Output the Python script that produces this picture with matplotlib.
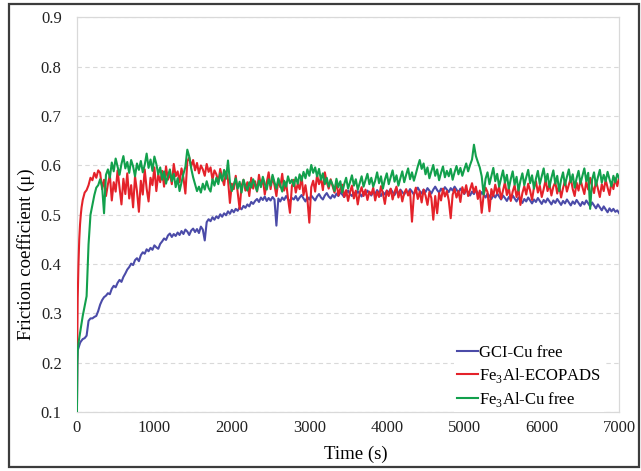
import numpy as np
import matplotlib
matplotlib.use("Agg")
import matplotlib.pyplot as plt
from matplotlib.patches import Rectangle

plt.rcParams["font.family"] = ["Liberation Serif", "DejaVu Serif"]
plt.rcParams["mathtext.fontset"] = "custom"
plt.rcParams["mathtext.rm"] = "Liberation Serif"

# ---- data ----
early_time = [0, 5, 10, 20, 30, 40, 50, 60, 75, 100, 125, 150, 175, 200, 225, 250, 275]
time = np.concatenate([early_time, np.arange(300, 7001, 25)])

labels = ["GCI-Cu free", "Fe$_{\\mathrm{3}}$Al-ECOPADS", "Fe$_{\\mathrm{3}}$Al-Cu free"]
colors = ["#4b4ba8", "#e4222a", "#12a04c"]

gci_cu_free = [
    0.100, 0.200, 0.225, 0.230, 0.235, 0.240, 0.243, 0.245, 0.248, 0.250, 0.255, 0.285, 0.290, 0.290, 0.293, 0.295, 0.305,
    0.318, 0.327, 0.333, 0.336, 0.341, 0.339, 0.350, 0.356, 0.353, 0.362, 0.368, 0.364, 0.374, 0.381, 0.389, 0.394, 0.401, 0.398, 0.408, 0.412,
    0.406, 0.418, 0.424, 0.421, 0.430, 0.426, 0.433, 0.429, 0.438, 0.434, 0.431, 0.441, 0.446, 0.452, 0.449, 0.458, 0.462, 0.455, 0.461, 0.457,
    0.464, 0.459, 0.467, 0.461, 0.470, 0.466, 0.459, 0.468, 0.472, 0.465, 0.471, 0.463, 0.476, 0.470, 0.448, 0.485, 0.491, 0.487, 0.495, 0.490,
    0.497, 0.493, 0.501, 0.496, 0.503, 0.499, 0.507, 0.502, 0.510, 0.505, 0.512, 0.508, 0.515, 0.511, 0.518, 0.514, 0.521, 0.517, 0.526, 0.522,
    0.528, 0.532, 0.526, 0.535, 0.530, 0.537, 0.528, 0.534, 0.529, 0.536, 0.531, 0.478, 0.533, 0.527, 0.535, 0.530, 0.538, 0.532, 0.527, 0.534,
    0.531, 0.538, 0.529, 0.535, 0.540, 0.533, 0.527, 0.536, 0.531, 0.539, 0.534, 0.529, 0.537, 0.542, 0.535, 0.531, 0.539, 0.544, 0.537, 0.533,
    0.540, 0.535, 0.543, 0.538, 0.546, 0.541, 0.536, 0.544, 0.549, 0.542, 0.538, 0.545, 0.540, 0.548, 0.543, 0.537, 0.546, 0.541, 0.549, 0.544,
    0.539, 0.547, 0.542, 0.550, 0.544, 0.538, 0.546, 0.541, 0.549, 0.545, 0.552, 0.546, 0.540, 0.548, 0.543, 0.551, 0.546, 0.541, 0.549, 0.544,
    0.552, 0.547, 0.541, 0.549, 0.555, 0.548, 0.543, 0.551, 0.546, 0.554, 0.549, 0.543, 0.551, 0.557, 0.550, 0.545, 0.553, 0.548, 0.556, 0.551,
    0.546, 0.554, 0.549, 0.557, 0.551, 0.545, 0.553, 0.548, 0.542, 0.550, 0.545, 0.539, 0.547, 0.542, 0.550, 0.544, 0.538, 0.546, 0.541, 0.535,
    0.543, 0.538, 0.532, 0.540, 0.535, 0.543, 0.537, 0.531, 0.539, 0.534, 0.528, 0.536, 0.531, 0.539, 0.533, 0.527, 0.535, 0.530, 0.524, 0.532,
    0.527, 0.535, 0.529, 0.523, 0.531, 0.526, 0.534, 0.528, 0.522, 0.530, 0.525, 0.533, 0.527, 0.521, 0.529, 0.524, 0.532, 0.526, 0.520, 0.528,
    0.523, 0.531, 0.525, 0.519, 0.527, 0.522, 0.530, 0.524, 0.518, 0.526, 0.521, 0.529, 0.523, 0.517, 0.525, 0.519, 0.513, 0.521, 0.515, 0.509,
    0.517, 0.511, 0.505, 0.513, 0.507, 0.512, 0.506, 0.509, 0.503,
]

fe3al_ecopads = [
    0.100, 0.250, 0.330, 0.400, 0.450, 0.480, 0.500, 0.515, 0.530, 0.545, 0.550, 0.560, 0.575, 0.570, 0.585, 0.575, 0.590,
    0.585, 0.552, 0.571, 0.538, 0.562, 0.581, 0.529, 0.566, 0.547, 0.590, 0.556, 0.521, 0.573, 0.542, 0.584, 0.533, 0.560, 0.515, 0.578, 0.548,
    0.506, 0.569, 0.541, 0.592, 0.553, 0.527, 0.575, 0.560, 0.596, 0.548, 0.582, 0.566, 0.589, 0.557, 0.598, 0.571, 0.585, 0.562, 0.603, 0.578,
    0.588, 0.566, 0.594, 0.575, 0.543, 0.608, 0.616, 0.598, 0.611, 0.590, 0.605, 0.584, 0.600, 0.592, 0.579, 0.603, 0.587, 0.596, 0.571, 0.590,
    0.582, 0.566, 0.593, 0.574, 0.560, 0.588, 0.571, 0.524, 0.563, 0.552, 0.579, 0.545, 0.512, 0.558, 0.571, 0.549, 0.566, 0.538, 0.575, 0.553,
    0.568, 0.547, 0.581, 0.559, 0.573, 0.541, 0.565, 0.586, 0.552, 0.577, 0.560, 0.538, 0.571, 0.556, 0.583, 0.549, 0.566, 0.533, 0.504, 0.558,
    0.571, 0.545, 0.563, 0.552, 0.578, 0.540, 0.560, 0.532, 0.484, 0.556, 0.569, 0.547, 0.581, 0.562, 0.575, 0.550, 0.586, 0.566, 0.553, 0.572,
    0.558, 0.545, 0.567, 0.539, 0.553, 0.561, 0.536, 0.550, 0.528, 0.546, 0.559, 0.533, 0.549, 0.521, 0.544, 0.556, 0.538, 0.551, 0.530, 0.547,
    0.541, 0.555, 0.529, 0.547, 0.536, 0.558, 0.543, 0.522, 0.549, 0.538, 0.553, 0.531, 0.546, 0.557, 0.535, 0.549, 0.527, 0.544, 0.552, 0.539,
    0.548, 0.486, 0.541, 0.555, 0.532, 0.547, 0.525, 0.551, 0.539, 0.520, 0.546, 0.534, 0.490, 0.538, 0.503, 0.544, 0.529, 0.553, 0.537, 0.548,
    0.529, 0.493, 0.541, 0.552, 0.535, 0.548, 0.526, 0.556, 0.543, 0.560, 0.538, 0.551, 0.564, 0.545, 0.557, 0.532, 0.549, 0.504, 0.540, 0.555,
    0.546, 0.507, 0.552, 0.538, 0.561, 0.543, 0.557, 0.532, 0.549, 0.566, 0.540, 0.555, 0.528, 0.547, 0.560, 0.536, 0.553, 0.520, 0.544, 0.558,
    0.541, 0.563, 0.549, 0.530, 0.556, 0.568, 0.545, 0.559, 0.536, 0.552, 0.571, 0.548, 0.562, 0.539, 0.557, 0.566, 0.543, 0.560, 0.535, 0.554,
    0.569, 0.547, 0.561, 0.574, 0.552, 0.538, 0.565, 0.549, 0.571, 0.556, 0.542, 0.567, 0.551, 0.575, 0.558, 0.544, 0.569, 0.553, 0.536, 0.562,
    0.548, 0.571, 0.555, 0.540, 0.566, 0.552, 0.574, 0.558, 0.577,
]

fe3al_cu_free = [
    0.100, 0.200, 0.225, 0.240, 0.250, 0.260, 0.270, 0.280, 0.295, 0.315, 0.335, 0.440, 0.500, 0.520, 0.540, 0.555, 0.560,
    0.572, 0.558, 0.503, 0.581, 0.592, 0.575, 0.606, 0.588, 0.614, 0.597, 0.581, 0.603, 0.619, 0.594, 0.607, 0.585, 0.611, 0.598, 0.578, 0.604,
    0.591, 0.609, 0.586, 0.601, 0.624, 0.595, 0.612, 0.589, 0.618, 0.603, 0.582, 0.596, 0.571, 0.588, 0.563, 0.579, 0.592, 0.568, 0.583, 0.556,
    0.574, 0.548, 0.566, 0.583, 0.597, 0.632, 0.618, 0.594, 0.576, 0.562, 0.548, 0.557, 0.545, 0.563, 0.551, 0.568, 0.554, 0.547, 0.572, 0.559,
    0.575, 0.562, 0.584, 0.569, 0.591, 0.573, 0.610, 0.566, 0.548, 0.561, 0.574, 0.553, 0.567, 0.545, 0.571, 0.558, 0.549, 0.566, 0.555, 0.572,
    0.561, 0.548, 0.569, 0.556, 0.577, 0.563, 0.551, 0.572, 0.559, 0.581, 0.566, 0.553, 0.574, 0.560, 0.547, 0.569, 0.557, 0.578, 0.564, 0.571,
    0.558, 0.576, 0.563, 0.582, 0.569, 0.587, 0.574, 0.592, 0.579, 0.601, 0.585, 0.596, 0.578, 0.593, 0.571, 0.584, 0.562, 0.575, 0.557, 0.570,
    0.561, 0.548, 0.573, 0.556, 0.568, 0.545, 0.562, 0.575, 0.553, 0.566, 0.580, 0.559, 0.572, 0.551, 0.564, 0.578, 0.557, 0.570, 0.583, 0.562,
    0.575, 0.557, 0.569, 0.586, 0.564, 0.578, 0.553, 0.571, 0.584, 0.562, 0.576, 0.590, 0.567, 0.580, 0.559, 0.574, 0.588, 0.566, 0.581, 0.594,
    0.572, 0.586, 0.569, 0.583, 0.598, 0.611, 0.593, 0.604, 0.582, 0.596, 0.574, 0.588, 0.601, 0.579, 0.592, 0.570, 0.585, 0.598, 0.576, 0.589,
    0.578, 0.593, 0.571, 0.586, 0.599, 0.582, 0.595, 0.579, 0.592, 0.604, 0.588, 0.601, 0.612, 0.642, 0.619, 0.607, 0.596, 0.578, 0.541, 0.573,
    0.586, 0.562, 0.579, 0.595, 0.568, 0.583, 0.557, 0.574, 0.590, 0.565, 0.581, 0.553, 0.572, 0.588, 0.561, 0.577, 0.549, 0.569, 0.584, 0.560,
    0.576, 0.591, 0.564, 0.580, 0.553, 0.573, 0.589, 0.562, 0.578, 0.594, 0.567, 0.583, 0.556, 0.575, 0.590, 0.563, 0.579, 0.548, 0.571, 0.586,
    0.560, 0.577, 0.592, 0.566, 0.582, 0.555, 0.574, 0.589, 0.563, 0.579, 0.594, 0.568, 0.585, 0.512, 0.571, 0.586, 0.559, 0.576, 0.591, 0.565,
    0.581, 0.568, 0.587, 0.572, 0.558, 0.579, 0.566, 0.583, 0.574,
]

series = [gci_cu_free, fe3al_ecopads, fe3al_cu_free]
for s in series:
    assert len(s) == len(time), (len(s), len(time))

x_ticks = [0, 1000, 2000, 3000, 4000, 5000, 6000, 7000]
y_ticks = [0.1, 0.2, 0.3, 0.4, 0.5, 0.6, 0.7, 0.8, 0.9]

# ---- figure ----
fig = plt.figure(figsize=(6.41, 4.71), dpi=100)
ax = fig.add_axes([0.120, 0.125, 0.846, 0.838])

for vals, lab, col in zip(series, labels, colors):
    ax.plot(time, vals, color=col, linewidth=1.5, label=lab, zorder=3)

ax.set_xlim(0, 7000)
ax.set_ylim(0.1, 0.9)
ax.set_xticks(x_ticks)
ax.set_yticks(y_ticks)
ax.set_yticklabels([f"{v:.1f}" for v in y_ticks])
ax.tick_params(length=0, labelsize=12, colors="#222222")
ax.tick_params(axis="y", pad=11)
ax.tick_params(axis="x", pad=6)

for sp in ax.spines.values():
    sp.set_color("#d9d9d9")
    sp.set_linewidth(0.9)

ax.yaxis.grid(True, color="#d9d9d9", linestyle=(0, (4, 3)), linewidth=0.8)
ax.set_axisbelow(True)

ax.set_xlabel("Time (s)", fontsize=13.5, va="center")
ax.xaxis.set_label_coords(0.515, -0.108)
ax.set_ylabel("Friction coefficient (\u03bc)", fontsize=13.5, va="center")
ax.yaxis.set_label_coords(-0.093, 0.40)

leg = ax.legend(loc="lower left", bbox_to_anchor=(0.695, 0.0), fontsize=12,
                frameon=True, fancybox=False, edgecolor="none", facecolor="white",
                framealpha=1.0, handlelength=1.25, handletextpad=0.05,
                labelspacing=0.3, borderpad=0.2, borderaxespad=0.0)
leg.set_zorder(5)

# outer frame
fig.add_artist(Rectangle((9 / 641, 4 / 471), (639 - 9) / 641, (467 - 4) / 471,
                         transform=fig.transFigure, fill=False,
                         edgecolor="#3c3c3c", linewidth=1.6))

fig.savefig("out.png", dpi=100)
